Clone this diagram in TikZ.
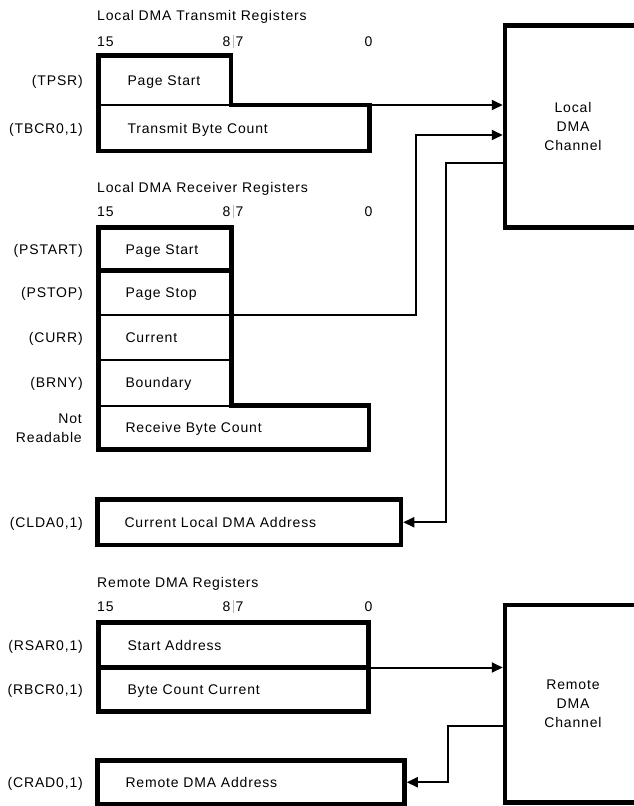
\documentclass[tikz,border=0pt]{standalone}
\usepackage{fontspec}
\newfontfamily\lbl[LetterSpace=6]{Liberation Sans}
\usetikzlibrary{arrows.meta,calc}
\begin{document}
\begin{tikzpicture}[x=1pt,y=-1pt,
  every node/.style={font=\lbl\fontsize{14}{19}\selectfont},
  reg/.style n args={2}{draw, line width=2pt, outer sep=0pt, inner xsep=0pt, inner ysep=0pt,
     text width=#1, minimum height=#2, align=left, text height=10pt, text depth=0pt},
  fullreg/.style n args={2}{draw, line width=4.5pt, inner xsep=0pt, inner ysep=0pt,
     text width=#1, minimum height=#2, align=left, text height=10pt, text depth=0pt},
  chan/.style={draw, line width=4.5pt, minimum width=136pt, align=center, inner sep=0pt},
  outline/.style={line width=4.5pt, line join=miter},
  conn/.style={line width=2pt, line join=miter},
  arr/.style={-{Triangle[length=11pt,width=10pt]}},
  lab/.style={anchor=east, inner sep=0pt, text height=10pt, text depth=0pt, align=right},
  ttl/.style={anchor=base west, inner sep=0pt},
  bitbar/.style={gray!55, line width=1pt}
]
\useasboundingbox (0,0) rectangle (634,806);

% ---------- Local DMA Transmit Registers ----------
\node[ttl] (t1) at (97,20) {Local DMA Transmit Registers};
\node[ttl] (b1a) at (97,46.5) {15};
\node[anchor=base east, inner sep=0pt] (b1b) at (230.5,46.5) {8};
\node[ttl] (b1c) at (235.5,46.5) {7};
\node[anchor=base, inner sep=0pt] (b1d) at (368.5,46.5) {0};
\draw[bitbar] (233,35) -- (233,48);

\node[reg={132.5pt}{49.5pt}] (TPSR) at (164.75,80.25) {\noindent\hspace*{29pt}Page Start};
\node[reg={271pt}{46pt}] (TBCR) at (234,128) {\noindent\hspace*{29pt}Transmit Byte Count};
\draw[outline] (TPSR.north west) -- (TPSR.north east) -- (TPSR.south east) -- (TBCR.north east)
   -- (TBCR.south east) -- (TBCR.south west) -- cycle;
\node[lab] (lTPSR) at (83,80.25) {(TPSR)};
\node[lab] (lTBCR) at (83,128) {(TBCR0,1)};

% ---------- Local DMA Receiver Registers ----------
\node[ttl] (t2) at (97,192) {Local DMA Receiver Registers};
\node[ttl] (b2a) at (97,216.5) {15};
\node[anchor=base east, inner sep=0pt] (b2b) at (230.5,216.5) {8};
\node[ttl] (b2c) at (235.5,216.5) {7};
\node[anchor=base, inner sep=0pt] (b2d) at (368.5,216.5) {0};
\draw[bitbar] (233,205) -- (233,218);

\node[reg={133pt}{43pt}] (PSTART) at (165,249) {\noindent\hspace*{27pt}Page Start};
\node[reg={133pt}{44.5pt}] (PSTOP) at (165,292.75) {\noindent\hspace*{27pt}Page Stop};
\node[reg={133pt}{45pt}] (CURR) at (165,337.5) {\noindent\hspace*{27pt}Current};
\node[reg={133pt}{45.5pt}] (BRNY) at (165,382.75) {\noindent\hspace*{27pt}Boundary};
\node[reg={270.5pt}{44pt}] (RBC) at (233.75,427.5) {\noindent\hspace*{27pt}Receive Byte Count};
\draw[outline] (PSTART.north west) -- (PSTART.north east) -- (BRNY.south east) -- (RBC.north east)
   -- (RBC.south east) -- (RBC.south west) -- cycle;
\draw[outline] (PSTART.south west) -- (PSTART.south east);
\node[lab] (lPSTART) at (83,249) {(PSTART)};
\node[lab] (lPSTOP) at (83,292.75) {(PSTOP)};
\node[lab] (lCURR) at (83,337.5) {(CURR)};
\node[lab] (lBRNY) at (83,382.75) {(BRNY)};
\node[anchor=east, inner sep=0pt, align=right] (lRBC) at (82,428) {Not\\Readable};

% ---------- Current Local DMA Address ----------
\node[fullreg={303.5pt}{45.5pt}] (CLDA) at (249.25,522.25) {\noindent\hspace*{27pt}Current Local DMA Address};
\node[lab] (lCLDA) at (83,522.25) {(CLDA0,1)};

% ---------- Local DMA Channel ----------
\node[chan, minimum height=202pt] (LDMA) at (573,126.5) {Local\\DMA\\Channel};

% ---------- Remote DMA Registers ----------
\node[ttl] (t3) at (97,587.5) {Remote DMA Registers};
\node[ttl] (b3a) at (97,611.5) {15};
\node[anchor=base east, inner sep=0pt] (b3b) at (230.5,611.5) {8};
\node[ttl] (b3c) at (235.5,611.5) {7};
\node[anchor=base, inner sep=0pt] (b3d) at (368.5,611.5) {0};
\draw[bitbar] (233,600) -- (233,613);

\node[reg={270pt}{45pt}] (RSAR) at (233.5,645) {\noindent\hspace*{29pt}Start Address};
\node[reg={270pt}{44pt}] (RBCR) at (233.5,689.5) {\noindent\hspace*{29pt}Byte Count Current};
\draw[outline] (RSAR.north west) rectangle (RBCR.south east);
\draw[outline] (RSAR.south west) -- (RSAR.south east);
\node[lab] (lRSAR) at (83,645) {(RSAR0,1)};
\node[lab] (lRBCR) at (83,689.5) {(RBCR0,1)};

\node[fullreg={307pt}{43.5pt}] (CRAD) at (251,782.25) {\noindent\hspace*{28pt}Remote DMA Address};
\node[lab] (lCRAD) at (83,782.25) {(CRAD0,1)};

% ---------- Remote DMA Channel ----------
\node[chan, minimum height=197.5pt] (RDMA) at (573,703.75) {Remote\\DMA\\Channel};

% ---------- Connectors ----------
\draw[conn,arr] (TBCR.north east) -- (TBCR.north east -| LDMA.west);
\coordinate (j1) at (416,135);
\draw[conn,arr] (PSTOP.south east) -| (j1) -- (j1 -| LDMA.west);
\coordinate (j2) at (446,163);
\draw[conn,arr] (j2 -| LDMA.west) -- (j2) |- (CLDA.east);
\draw[conn,arr] (RSAR.south east) -- (RSAR.south east -| RDMA.west);
\coordinate (j3) at (448,726);
\draw[conn,arr] (j3 -| RDMA.west) -- (j3) |- (CRAD.east);
\end{tikzpicture}
\end{document}
